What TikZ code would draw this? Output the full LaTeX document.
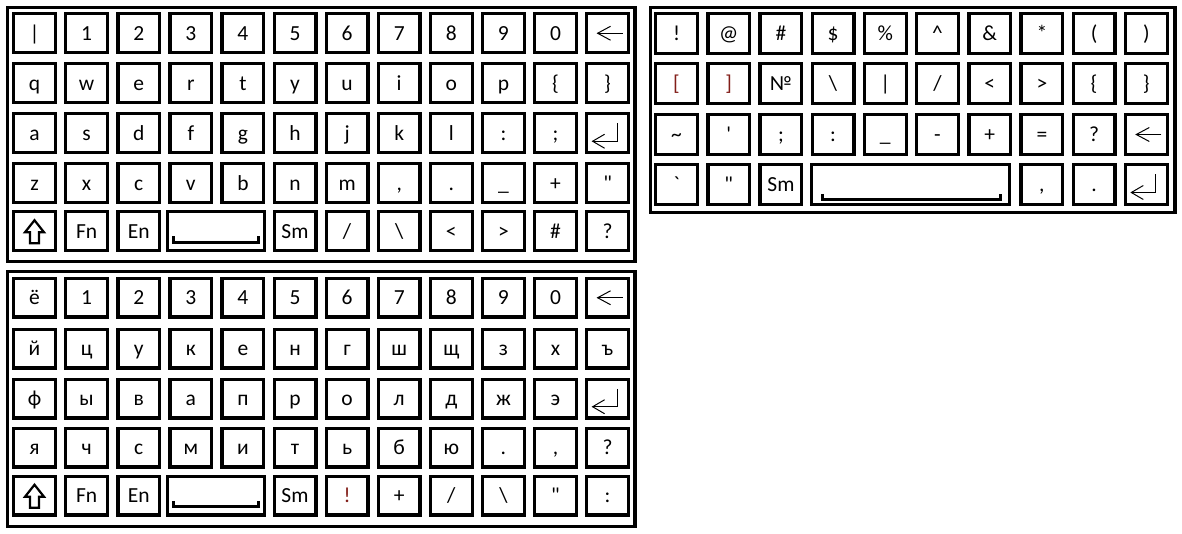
\documentclass[tikz,border=0pt]{standalone}
\usepackage{fontspec}
\newfontfamily\kf{Carlito}
\definecolor{dr}{RGB}{130,30,25}
\tikzset{
  keybox/.style={draw, line width=3.3pt, rectangle, inner sep=0pt, outer sep=0pt},
  keylabel/.style={anchor=base, inner sep=0pt, font=\kf\fontsize{21.5}{23}\selectfont},
  kbframe/.style={draw, line width=3.2pt},
  thinsym/.style={line width=1pt},
  shiftsym/.style={line width=2.2pt, line join=miter},
  spacesym/.style={line width=3pt, line join=miter},
}
\newcommand\kbox[5]{\node[keybox, minimum width={#4pt-3.3pt}, minimum height={#5pt-3.3pt}] (#1) at ({#2+#4/2},{#3+#5/2}) {};}
\newcommand\kkey[6]{\kbox{#1}{#2}{#3}{#4}{#5}\node[keylabel] (#1-t) at ([yshift=-7pt]#1.center) {#6};}
\newcommand\bsarrow[1]{%
  \draw[thinsym] ([shift={(15,0)}]#1.center) -- ([shift={(-10,0)}]#1.center);
  \draw[thinsym] ([shift={(3,-7)}]#1.center) -- ([shift={(-10,0)}]#1.center) -- ([shift={(3,7)}]#1.center);}
\newcommand\entarrow[1]{%
  \draw[thinsym] ([shift={(9.5,-10)}]#1.center) -- ([shift={(9.5,8)}]#1.center) -- ([shift={(-15,8)}]#1.center);
  \draw[thinsym] ([shift={(-3,1)}]#1.center) -- ([shift={(-15,8)}]#1.center) -- ([shift={(-3,15)}]#1.center);}
\newcommand\shiftarrow[1]{%
  \draw[shiftsym] ([shift={(0,-11)}]#1.center) -- ++(9.5,12) -- ++(-5,0) -- ++(0,11) -- ++(-9,0) -- ++(0,-11) -- ++(-5,0) -- cycle;}
\begin{document}
\begin{tikzpicture}[x=1pt,y=-1pt]
\useasboundingbox[fill=white] (0,0) rectangle (1182,534);
% ===== Keyboard 1 (Latin) =====
\draw[kbframe] (7.5,7.5) rectangle (635,261.5);
\foreach \lab [count=\i from 0] in {|,1,2,3,4,5,6,7,8,9,0} {\kkey{a0-\i}{12+52.1*\i}{12}{45}{42.5}{\lab}}
\kbox{a0-11}{12+52.1*11}{12}{45}{42.5}\bsarrow{a0-11}
\foreach \lab [count=\i from 0] in {q,w,e,r,t,y,u,i,o,p,\{,\}} {\kkey{a1-\i}{12+52.1*\i}{62}{45}{42.5}{\lab}}
\foreach \lab [count=\i from 0] in {a,s,d,f,g,h,j,k,l,:,;} {\kkey{a2-\i}{12+52.1*\i}{112}{45}{42.5}{\lab}}
\kbox{a2-11}{12+52.1*11}{112}{45}{42.5}\entarrow{a2-11}
\foreach \lab [count=\i from 0] in {z,x,c,v,b,n,m,{,},.,\_,+,{"}} {\kkey{a3-\i}{12+52.1*\i}{162}{45}{42.5}{\lab}}
\kbox{a4-0}{12}{210}{45}{42.5}\shiftarrow{a4-0}
\kkey{a4-1}{12+52.1}{210}{45}{42.5}{Fn}
\kkey{a4-2}{12+52.1*2}{210}{45}{42.5}{En}
\kbox{a4-sp}{166}{210}{100}{42.5}
\draw[spacesym] ([shift={(-42.5,5)}]a4-sp.center) -- ([shift={(-42.5,11)}]a4-sp.center) -- ([shift={(42.5,11)}]a4-sp.center) -- ([shift={(42.5,5)}]a4-sp.center);
\foreach \lab [count=\i from 5] in {Sm,/,\textbackslash,<,>,\#,?} {\kkey{a4-\i}{12+52.1*\i}{210}{45}{42.5}{\lab}}
% ===== Keyboard 2 (symbols) =====
\draw[kbframe] (650.5,7.5) rectangle (1175,212.5);
\foreach \lab [count=\i from 0] in {!,@,\#,\$,\%,\textasciicircum,\&,*,{(},{)}} {\kkey{b0-\i}{654+52.2*\i}{12}{45}{43}{\lab}}
\foreach \lab [count=\i from 0] in {\textcolor{dr}{[},\textcolor{dr}{]},№,\textbackslash,|,/,<,>,\{,\}} {\kkey{b1-\i}{654+52.2*\i}{62}{45}{43}{\lab}}
\foreach \lab [count=\i from 0] in {\textasciitilde,',;,:,\_,-,+,=,?} {\kkey{b2-\i}{654+52.2*\i}{113}{45}{43}{\lab}}
\kbox{b2-9}{654+52.2*9}{113}{45}{43}\bsarrow{b2-9}
\kkey{b3-0}{654}{163}{45}{43}{`}
\kkey{b3-1}{654+52.2}{163}{45}{43}{"}
\kkey{b3-2}{654+52.2*2}{163}{45}{43}{Sm}
\kbox{b3-sp}{810}{163}{201}{43}
\draw[spacesym] ([shift={(-88,9.5)}]b3-sp.center) -- ([shift={(-88,15.5)}]b3-sp.center) -- ([shift={(90,15.5)}]b3-sp.center) -- ([shift={(90,9.5)}]b3-sp.center);
\kkey{b3-7}{654+52.2*7}{163}{45}{43}{,}
\kkey{b3-8}{654+52.2*8}{163}{45}{43}{.}
\kbox{b3-9}{654+52.2*9}{163}{45}{43}\entarrow{b3-9}
% ===== Keyboard 3 (Cyrillic) =====
\draw[kbframe] (7.5,271.5) rectangle (635,526.5);
\foreach \lab [count=\i from 0] in {ё,1,2,3,4,5,6,7,8,9,0} {\kkey{c0-\i}{12+52.1*\i}{277}{45}{41.5}{\lab}}
\kbox{c0-11}{12+52.1*11}{277}{45}{41.5}\bsarrow{c0-11}
\foreach \lab [count=\i from 0] in {й,ц,у,к,е,н,г,ш,щ,з,х,ъ} {\kkey{c1-\i}{12+52.1*\i}{328}{45}{41.5}{\lab}}
\foreach \lab [count=\i from 0] in {ф,ы,в,а,п,р,о,л,д,ж,э} {\kkey{c2-\i}{12+52.1*\i}{378}{45}{41.5}{\lab}}
\kbox{c2-11}{12+52.1*11}{378}{45}{41.5}\entarrow{c2-11}
\foreach \lab [count=\i from 0] in {я,ч,с,м,и,т,ь,б,ю,.,{,},?} {\kkey{c3-\i}{12+52.1*\i}{427}{45}{41.5}{\lab}}
\kbox{c4-0}{12}{475}{45}{41.5}\shiftarrow{c4-0}
\kkey{c4-1}{12+52.1}{475}{45}{41.5}{Fn}
\kkey{c4-2}{12+52.1*2}{475}{45}{41.5}{En}
\kbox{c4-sp}{166}{475}{100}{41.5}
\draw[spacesym] ([shift={(-42.5,5)}]c4-sp.center) -- ([shift={(-42.5,11)}]c4-sp.center) -- ([shift={(42.5,11)}]c4-sp.center) -- ([shift={(42.5,5)}]c4-sp.center);
\foreach \lab [count=\i from 5] in {Sm,\textcolor{dr}{!},+,/,\textbackslash,{"},:} {\kkey{c4-\i}{12+52.1*\i}{475}{45}{41.5}{\lab}}
\end{tikzpicture}
\end{document}
